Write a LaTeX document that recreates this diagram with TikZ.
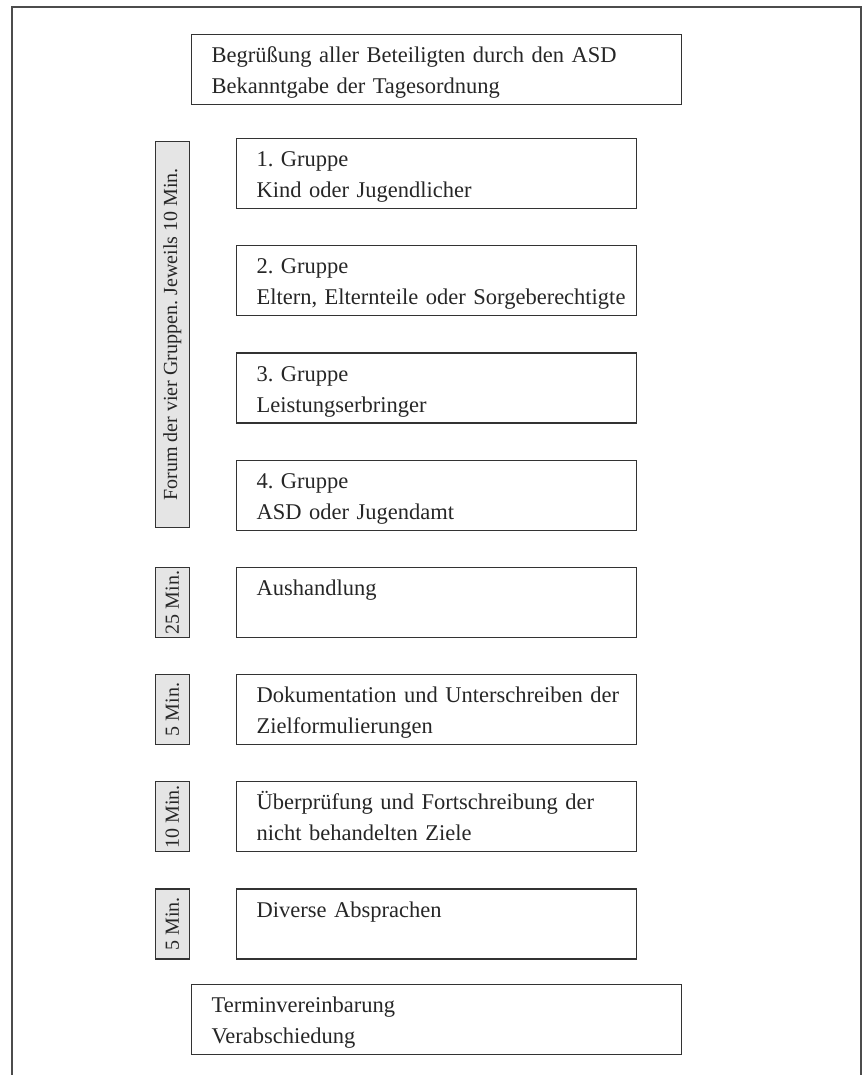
\documentclass[tikz,border=0pt]{standalone}
\usepackage{fontspec}
\setmainfont{Liberation Serif}
\usetikzlibrary{positioning, calc}
\tikzstyle{rahmen} = [draw=black!70, line width=1.6pt]
\tikzstyle{block} = [rectangle, draw=black!80, line width=1.2pt, text=black!85, anchor=north west, align=left, inner xsep=7.5pt, inner ysep=0pt, text height=28pt, text depth=42pt, font=\fontsize{22.5}{31}\selectfont, execute at begin node={\leftskip=12.5pt}]
\tikzstyle{gruppe} = [block, text width=385pt]
\tikzstyle{zeit} = [rectangle, draw=black!80, line width=1.2pt, fill=black!10, text=black!85, rotate=90, anchor=south, minimum height=34pt, inner sep=0pt, font=\fontsize{20}{24}\selectfont]

\begin{document}
\frenchspacing
\begin{tikzpicture}[x=1pt, y=-1pt, node distance=36pt]
    \useasboundingbox (0,0) rectangle (867,1075);
    \draw [rahmen] (12,1075) -- (12,7) -- (861,7) -- (861,1075);

    \node (begruessung) [block, text width=475pt] at (191,34) {Begrüßung aller Beteiligten durch den ASD\\Bekanntgabe der Tagesordnung};

    \node (gruppe1) [gruppe] at (236,138) {1. Gruppe\\Kind oder Jugendlicher};
    \node (gruppe2) [gruppe, below=of gruppe1] {2. Gruppe\\Eltern, Elternteile oder Sorgeberechtigte};
    \node (gruppe3) [gruppe, below=of gruppe2] {3. Gruppe\\Leistungserbringer};
    \node (gruppe4) [gruppe, below=of gruppe3] {4. Gruppe\\ASD oder Jugendamt};
    \node (aushandlung) [gruppe, below=of gruppe4] {Aushandlung};
    \node (doku) [gruppe, below=of aushandlung] {Dokumentation und Unterschreiben der\\Zielformulierungen};
    \node (pruefung) [gruppe, below=of doku] {Überprüfung und Fortschreibung der\\nicht behandelten Ziele};
    \node (diverses) [gruppe, below=of pruefung] {Diverse Absprachen};

    \node (abschluss) [block, text width=475pt] at (191,984) {Terminvereinbarung\\Verabschiedung};

    % Zeitangaben links
    \node (forum) [zeit, minimum width=386pt] at ([xshift=-46pt]$(gruppe1.north west)!0.5!(gruppe4.south west)$) {Forum der vier Gruppen. Jeweils 10 Min.};
    \node (zeitAush) [zeit, minimum width=70pt] at ([xshift=-46pt]aushandlung.west) {25 Min.};
    \node (zeitDoku) [zeit, minimum width=70pt] at ([xshift=-46pt]doku.west) {5 Min.};
    \node (zeitPruef) [zeit, minimum width=70pt] at ([xshift=-46pt]pruefung.west) {10 Min.};
    \node (zeitDiv) [zeit, minimum width=70pt] at ([xshift=-46pt]diverses.west) {5 Min.};
\end{tikzpicture}
\end{document}
